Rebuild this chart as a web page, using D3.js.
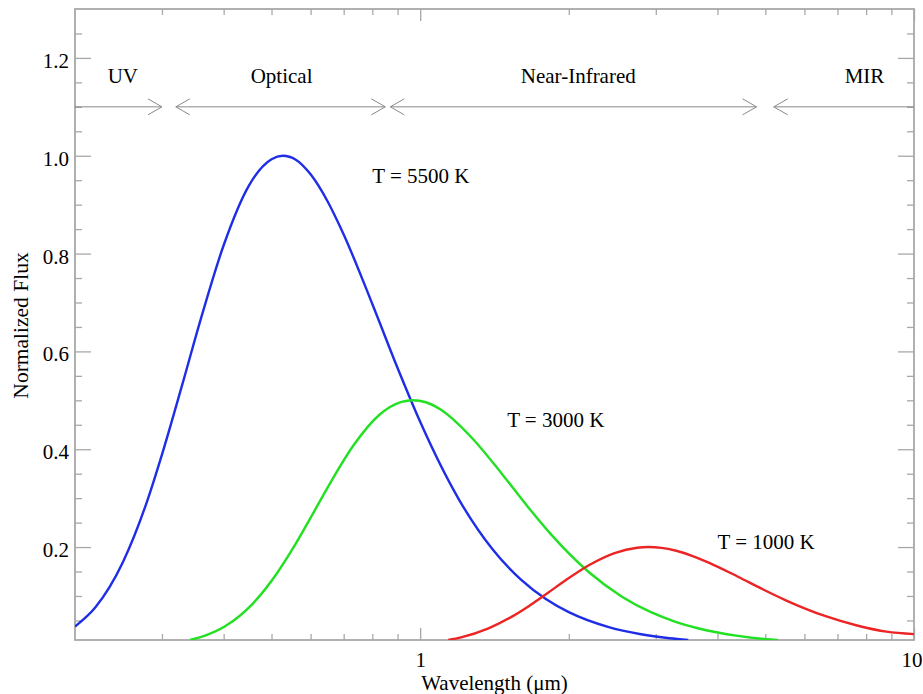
<!DOCTYPE html>
<html>
<head>
<meta charset="utf-8">
<script src="https://cdn.jsdelivr.net/npm/d3@7"></script>
<style>
  html, body { margin: 0; padding: 0; background: #fff; }
  svg text { font-family: "Liberation Serif", "DejaVu Serif", serif; fill: #000; }
</style>
</head>
<body>
<svg id="chart" width="923" height="694"></svg>
<script>
// Blackbody curves: [wavelength (um), normalized flux]
const blue5500 = [
  [0.2, 0.0377], [0.22, 0.0769], [0.25, 0.169], [0.28, 0.294], [0.3, 0.389],
  [0.33, 0.533], [0.36, 0.668], [0.4, 0.817], [0.45, 0.939], [0.5, 0.993],
  [0.527, 1.0], [0.56, 0.992], [0.6, 0.962], [0.65, 0.906], [0.7, 0.839],
  [0.8, 0.697], [0.9, 0.566], [1.0, 0.456], [1.2, 0.296], [1.4, 0.196],
  [1.6, 0.1335], [1.8, 0.0933], [2.0, 0.0669], [2.4, 0.0368], [2.8, 0.0217],
  [3.2, 0.0136], [3.49, 0.0100]
];
const green3000 = [
  [0.342, 0.0100], [0.3667, 0.0189], [0.4033, 0.0385], [0.4583, 0.0845], [0.5133, 0.147],
  [0.55, 0.194], [0.605, 0.2665], [0.66, 0.334], [0.733, 0.408], [0.825, 0.4695],
  [0.917, 0.4967], [0.966, 0.5], [1.027, 0.496], [1.1, 0.481], [1.19, 0.453],
  [1.283, 0.4195], [1.467, 0.3485], [1.65, 0.283], [1.833, 0.228], [2.2, 0.148],
  [2.567, 0.098], [2.933, 0.0668], [3.3, 0.0467], [3.667, 0.0335], [4.4, 0.0184],
  [5.13, 0.0109], [5.3, 0.0100]
];
const red1000 = [
  [1.14, 0.0100], [1.21, 0.0154], [1.375, 0.0338], [1.54, 0.0588], [1.65, 0.0777],
  [1.815, 0.1066], [1.98, 0.1336], [2.2, 0.1633], [2.475, 0.1878], [2.75, 0.1987],
  [2.898, 0.2], [3.08, 0.1984], [3.3, 0.1924], [3.575, 0.1812], [3.85, 0.1678],
  [4.4, 0.1394], [4.95, 0.1132], [5.5, 0.0912], [6.6, 0.0592], [7.7, 0.0392],
  [8.8, 0.0270], [10, 0.0220]
];

const curveNames = ['T = 5500 K', 'T = 3000 K', 'T = 1000 K'];
const curveColors = ['#1e2ee6', '#22e022', '#ec2424'];
const labelAt = [[0.8, 0.945], [1.5, 0.445], [4.0, 0.196]];

// Wavelength bands along the top
const bandNames = ['UV', 'Optical', 'Near-Infrared', 'MIR'];
const bandLabelX = [0.25, 0.524, 2.09, 7.94];
const bandFrom = [0.2, 0.32, 0.87, 5.2];
const bandTo = [0.3, 0.85, 4.8, 10];
const bandArrowLeft = [false, true, true, true];
const bandArrowRight = [true, true, true, false];
const bandLineY = 1.1;
const bandLabelY = 1.149;

// Ticks
const xMajor = [1, 10];
const xMinor = [0.3, 0.4, 0.5, 0.6, 0.7, 0.8, 0.9, 2, 3, 4, 5, 6, 7, 8, 9];
const yMajor = [0.2, 0.4, 0.6, 0.8, 1.0, 1.2];
const yMinor = [0.05, 0.1, 0.15, 0.25, 0.3, 0.35, 0.45, 0.5, 0.55, 0.65, 0.7, 0.75,
                0.85, 0.9, 0.95, 1.05, 1.1, 1.15, 1.25];

const svg = d3.select('#chart');
const m = { left: 75, right: 914, top: 9, bottom: 640 };
const axisColor = '#a8a8a8';
const fontSize = '21px';

const x = d3.scaleLog().domain([0.2, 10]).range([m.left, m.right]);
const y = d3.scaleLinear().domain([0.01, 1.3]).range([m.bottom, m.top]);

svg.append('defs').append('clipPath').attr('id', 'plot')
  .append('rect')
  .attr('x', m.left).attr('y', m.top)
  .attr('width', m.right - m.left).attr('height', m.bottom - m.top);

function styleAxis(g) {
  g.select('.domain').remove();
  g.selectAll('.tick line').attr('stroke', axisColor).attr('stroke-width', 1.3);
  g.selectAll('.tick text').style('font-size', fontSize).attr('fill', '#000');
}

// bottom axis
svg.append('g').attr('transform', `translate(0,${m.bottom})`)
  .call(d3.axisBottom(x).tickValues(xMinor).tickSize(-6).tickFormat(''))
  .call(styleAxis);
svg.append('g').attr('transform', `translate(0,${m.bottom})`)
  .call(d3.axisBottom(x).tickValues(xMajor).tickSize(-12).tickPadding(12).tickFormat(d3.format('d')))
  .call(styleAxis)
  // keep the last label inside the page edge
  .call(g => g.selectAll('.tick text').filter(d => d === 10).attr('text-anchor', 'end').attr('dx', 8));
// top axis
svg.append('g').attr('transform', `translate(0,${m.top})`)
  .call(d3.axisTop(x).tickValues(xMinor).tickSize(-6).tickFormat(''))
  .call(styleAxis);
svg.append('g').attr('transform', `translate(0,${m.top})`)
  .call(d3.axisTop(x).tickValues(xMajor).tickSize(-12).tickFormat(''))
  .call(styleAxis);
// left axis
svg.append('g').attr('transform', `translate(${m.left},0)`)
  .call(d3.axisLeft(y).tickValues(yMinor).tickSize(-7).tickFormat(''))
  .call(styleAxis);
svg.append('g').attr('transform', `translate(${m.left},0)`)
  .call(d3.axisLeft(y).tickValues(yMajor).tickSize(-16).tickPadding(6).tickFormat(d3.format('.1f')))
  .call(styleAxis)
  .call(g => g.selectAll('.tick text').attr('dy', '0.45em'));
// right axis
svg.append('g').attr('transform', `translate(${m.right},0)`)
  .call(d3.axisRight(y).tickValues(yMinor).tickSize(-7).tickFormat(''))
  .call(styleAxis);
svg.append('g').attr('transform', `translate(${m.right},0)`)
  .call(d3.axisRight(y).tickValues(yMajor).tickSize(-16).tickFormat(''))
  .call(styleAxis);

// frame
svg.append('rect')
  .attr('x', m.left).attr('y', m.top)
  .attr('width', m.right - m.left).attr('height', m.bottom - m.top)
  .attr('fill', 'none')
  .attr('stroke', axisColor)
  .attr('stroke-width', 1.8);

// band arrows
const bands = svg.append('g').attr('stroke', '#8a8a8a').attr('stroke-width', 1).attr('fill', 'none');
const by = y(bandLineY);
bandNames.forEach((name, i) => {
  const x0 = x(bandFrom[i]), x1 = x(bandTo[i]);
  bands.append('line').attr('x1', x0).attr('x2', x1).attr('y1', by).attr('y2', by);
  if (bandArrowLeft[i]) {
    bands.append('path').attr('d', `M${x0 + 14},${by - 8}L${x0},${by}L${x0 + 14},${by + 8}`);
  }
  if (bandArrowRight[i]) {
    bands.append('path').attr('d', `M${x1 - 14},${by - 8}L${x1},${by}L${x1 - 14},${by + 8}`);
  }
  svg.append('text')
    .attr('x', x(bandLabelX[i]))
    .attr('y', y(bandLabelY))
    .attr('text-anchor', 'middle')
    .style('font-size', fontSize)
    .text(name);
});

// curves
const line = d3.line()
  .x(d => x(d[0]))
  .y(d => y(d[1]))
  .curve(d3.curveMonotoneX);

const plot = svg.append('g').attr('clip-path', 'url(#plot)');
[blue5500, green3000, red1000].forEach((series, i) => {
  plot.append('path')
    .datum(series)
    .attr('d', line)
    .attr('fill', 'none')
    .attr('stroke', curveColors[i])
    .attr('stroke-width', 2.4);
  svg.append('text')
    .attr('x', x(labelAt[i][0]))
    .attr('y', y(labelAt[i][1]))
    .style('font-size', fontSize)
    .text(curveNames[i]);
});

// axis titles
svg.append('text')
  .attr('x', (m.left + m.right) / 2)
  .attr('y', 690)
  .attr('text-anchor', 'middle')
  .style('font-size', fontSize)
  .text('Wavelength (\u03bcm)');

svg.append('text')
  .attr('transform', `translate(28,${(m.top + m.bottom) / 2 + 1}) rotate(-90)`)
  .attr('text-anchor', 'middle')
  .style('font-size', '21.5px')
  .text('Normalized Flux');
</script>
</body>
</html>
